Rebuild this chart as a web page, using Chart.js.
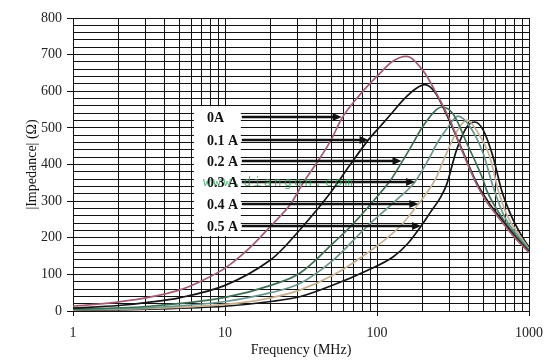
<!DOCTYPE html>
<html><head><meta charset="utf-8">
<script src="https://cdn.jsdelivr.net/npm/chart.js@4/dist/chart.umd.min.js"></script>
<style>html,body{margin:0;padding:0;background:#fff;}canvas{display:block;}</style>
</head><body>
<canvas id="c" width="559" height="362"></canvas>
<script>
// ---- data ----
const seriesNames = ['0A', '0.1 A', '0.2 A', '0.3 A', '0.4 A', '0.5 A'];

const freq0 = [1, 2, 3.2, 5, 7, 10, 14, 20, 27, 33, 41, 50, 58.5, 77, 104, 125, 156, 202, 246, 302, 369, 450, 530, 625, 780, 1000];
const imp0  = [13, 25, 38, 57, 82, 117, 166, 232, 292, 353, 410, 468, 525, 590, 648, 680, 695, 655, 594, 521, 430, 348, 296, 257, 207, 160];

const freq1 = [1, 2, 3.2, 5, 10, 20, 24, 31, 49, 66, 88, 107, 125, 150, 180, 206, 240, 302, 369, 450, 540, 640, 795, 1000];
const imp1  = [8, 15, 24, 36, 70, 140, 170, 221, 321, 397, 468, 508, 540, 578, 607, 618, 598, 516, 433, 352, 298, 257, 207, 162];

const freq2 = [1, 3.2, 10, 20, 31, 51.5, 70, 100, 125, 145, 165, 201, 246, 267, 317, 391, 500, 526, 660, 815, 1000];
const imp2  = [5, 13, 37, 70, 103, 185, 239, 312, 362, 405, 444, 505, 550, 557, 538, 457, 357, 330, 257, 207, 165];

const freq3 = [1, 3.2, 10, 20, 31, 51.5, 85.5, 130, 178, 217, 250, 287, 342, 409, 500, 580, 690, 840, 1000];
const imp3  = [4, 9, 26, 50, 75, 139, 230, 298, 353, 412, 460, 497, 532, 503, 430, 340, 257, 207, 167];

const freq4 = [1, 3.2, 10, 20, 31, 51.5, 85.5, 141, 187, 211, 246, 287, 350, 391, 450, 552, 627, 725, 865, 1000];
const imp4  = [3, 7, 18, 36, 57, 98, 157, 230, 292, 321, 365, 432, 503, 521, 494, 421, 330, 257, 207, 170];

const freq5 = [1, 3.2, 10, 20, 31, 51.5, 85.5, 128, 160, 195, 225, 260, 287, 334, 391, 440, 500, 580, 660, 770, 890, 1000];
const imp5  = [2, 5, 13, 26, 39, 71, 110, 148, 185, 232, 270, 308, 345, 440, 503, 516, 494, 421, 330, 257, 207, 173];

const xTickLabels = [1, 10, 100, 1000];
const xGridValues = [1,2,3,4,5,6,7,8,9,10,20,30,40,50,60,70,80,90,100,200,300,400,500,600,700,800,900,1000];
const yTickLabels = [0, 100, 200, 300, 400, 500, 600, 700, 800];

// arrow annotations: row impedance, tip frequency
const arrowRowValues = [529, 468, 410, 353, 292, 232];
const arrowTipFreqs  = [58.5, 88, 145, 178, 187, 195];
const arrowTailFreq = 12.9;
const labelFreq = 7.6;
const watermarkText = 'www.diangon.com';

// ---- styles ----
const seriesColors = ['#a35d70', '#151515', '#3f6e55', '#6b968b', '#c6b092', '#151515'];
const freqs = [freq0, freq1, freq2, freq3, freq4, freq5];
const imps = [imp0, imp1, imp2, imp3, imp4, imp5];

const serif = "'Liberation Serif', 'Times New Roman', serif";

const datasets = seriesNames.map((name, i) => ({
  label: name,
  data: freqs[i].map((f, j) => ({x: f, y: imps[i][j]})),
  borderColor: seriesColors[i],
  borderWidth: 1.7,
  pointRadius: 0,
  fill: false,
  cubicInterpolationMode: 'monotone'
}));

const annotPlugin = {
  id: 'annot',
  afterDatasetsDraw(chart) {
    const ctx = chart.ctx;
    const xs = chart.scales.x, ys = chart.scales.y;
    ctx.save();
    // white box behind labels
    const bx0 = xs.getPixelForValue(labelFreq) - 13;
    const bx1 = xs.getPixelForValue(arrowTailFreq) - 1;
    const by0 = ys.getPixelForValue(arrowRowValues[0]) - 11;
    const by1 = ys.getPixelForValue(arrowRowValues[arrowRowValues.length - 1]) + 10;
    ctx.fillStyle = '#fff';
    ctx.fillRect(bx0, by0, bx1 - bx0, by1 - by0);
    arrowRowValues.forEach((v, i) => {
      const y = Math.round(ys.getPixelForValue(v));
      const x0 = xs.getPixelForValue(arrowTailFreq);
      const x1 = xs.getPixelForValue(arrowTipFreqs[i]);
      ctx.strokeStyle = '#111';
      ctx.lineWidth = 2.6;
      ctx.beginPath();
      ctx.moveTo(x0, y);
      ctx.lineTo(x1 - 7, y);
      ctx.stroke();
      ctx.fillStyle = '#111';
      ctx.beginPath();
      ctx.moveTo(x1, y);
      ctx.lineTo(x1 - 9, y - 4);
      ctx.lineTo(x1 - 9, y + 4);
      ctx.closePath();
      ctx.fill();
      ctx.font = 'bold 14px ' + serif;
      ctx.textAlign = 'left';
      ctx.textBaseline = 'middle';
      ctx.fillStyle = '#111';
      ctx.fillText(seriesNames[i], xs.getPixelForValue(labelFreq), y + 1);
    });
    // faint watermark on the 0.3 A row
    ctx.font = '13px ' + "'DejaVu Sans Mono', monospace";
    ctx.fillStyle = 'rgba(40,160,80,0.75)';
    ctx.textBaseline = 'middle';
    try { ctx.letterSpacing = '2.3px'; } catch (e) {}
    ctx.fillText(watermarkText, xs.getPixelForValue(labelFreq) - 4, ys.getPixelForValue(arrowRowValues[3]) + 1);
    ctx.restore();
  }
};

new Chart(document.getElementById('c'), {
  type: 'line',
  data: { datasets },
  options: {
    responsive: false,
    devicePixelRatio: 1,
    animation: false,
    layout: { padding: { top: 18, right: 30, left: 0, bottom: 0 } },
    plugins: { legend: { display: false }, tooltip: { enabled: false } },
    scales: {
      x: {
        type: 'logarithmic',
        min: 1, max: 1000,
        afterBuildTicks: s => { s.ticks = xGridValues.map(v => ({value: v})); },
        afterFit: s => { s.height = 51; },
        grid: {
          color: '#111', lineWidth: 1, tickLength: 5,
          tickColor: c => (c.tick && xTickLabels.includes(c.tick.value)) ? '#111' : 'rgba(0,0,0,0)'
        },
        border: { color: '#111', width: 1 },
        ticks: {
          autoSkip: false, maxRotation: 0, padding: 9,
          color: '#222', font: { family: serif, size: 14 },
          callback: v => xTickLabels.includes(v) ? String(v) : ''
        },
        title: {
          display: true, text: 'Frequency (MHz)', color: '#111',
          font: { family: serif, size: 14 }, padding: { top: 0, bottom: 3 }
        }
      },
      y: {
        min: 0, max: 800,
        afterFit: s => { s.width = 73; },
        grid: {
          color: '#111', lineWidth: 1, tickLength: 6,
          tickColor: c => (c.tick && yTickLabels.includes(c.tick.value)) ? '#111' : 'rgba(0,0,0,0)'
        },
        border: { color: '#111', width: 1 },
        ticks: {
          stepSize: 20, autoSkip: false, padding: 5,
          color: '#222', font: { family: serif, size: 14 },
          callback: v => yTickLabels.includes(v) ? String(v) : ''
        },
        title: {
          display: true, text: '|Impedance| (Ω)', color: '#111',
          font: { family: serif, size: 14 }, padding: { top: 24, bottom: 0 }
        }
      }
    }
  },
  plugins: [annotPlugin]
});
</script>
</body></html>
